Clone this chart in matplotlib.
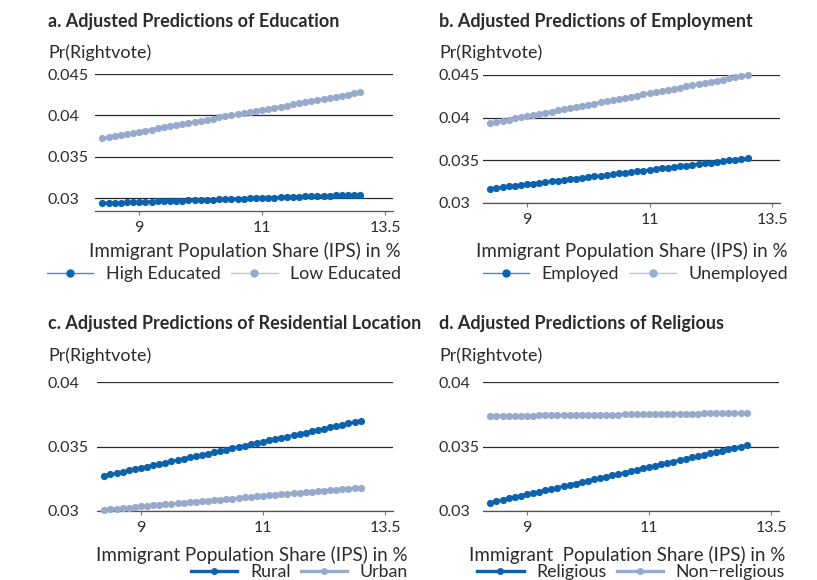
import matplotlib
matplotlib.use('Agg')
import matplotlib.pyplot as plt
from matplotlib.lines import Line2D

plt.rcParams['font.family'] = ['Lato', 'DejaVu Sans']

W, H = 817, 580

ips = [8.4, 8.5, 8.6, 8.7, 8.8, 8.9, 9.0, 9.1, 9.2, 9.3, 9.4,
       9.5, 9.6, 9.7, 9.8, 9.9, 10.0, 10.1, 10.2, 10.3, 10.4,
       10.5, 10.6, 10.7, 10.8, 10.9, 11.0, 11.1, 11.2, 11.3, 11.4,
       11.5, 11.6, 11.7, 11.8, 11.9, 12.0, 12.1, 12.2, 12.3, 12.4,
       12.5, 12.6]

high_edu = [0.02936, 0.02939, 0.02941, 0.02944, 0.02946, 0.02949, 0.02951, 0.02954, 0.02956,
            0.02959, 0.02961, 0.02964, 0.02966, 0.02969, 0.02971, 0.02974, 0.02976, 0.02979,
            0.02981, 0.02984, 0.02986, 0.02989, 0.02991, 0.02994, 0.02996, 0.02999, 0.03001,
            0.03004, 0.03006, 0.03009, 0.03012, 0.03014, 0.03017, 0.03019, 0.03022, 0.03024,
            0.03027, 0.03029, 0.03032, 0.03034, 0.03037, 0.03039, 0.03042]
low_edu = [0.03722, 0.03735, 0.03748, 0.03762, 0.03775, 0.03788, 0.03801, 0.03815, 0.03828,
           0.03841, 0.03854, 0.03868, 0.03881, 0.03894, 0.03907, 0.03921, 0.03934, 0.03947,
           0.03960, 0.03974, 0.03987, 0.04000, 0.04013, 0.04027, 0.04040, 0.04053, 0.04066,
           0.04079, 0.04093, 0.04106, 0.04119, 0.04132, 0.04146, 0.04159, 0.04172, 0.04185,
           0.04199, 0.04212, 0.04225, 0.04238, 0.04252, 0.04265, 0.04278]

employed = [0.03169, 0.03177, 0.03186, 0.03194, 0.03203, 0.03211, 0.03220, 0.03228, 0.03237,
            0.03245, 0.03254, 0.03262, 0.03270, 0.03279, 0.03287, 0.03296, 0.03304, 0.03313,
            0.03321, 0.03330, 0.03338, 0.03346, 0.03355, 0.03363, 0.03372, 0.03380, 0.03389,
            0.03397, 0.03406, 0.03414, 0.03423, 0.03431, 0.03439, 0.03448, 0.03456, 0.03465,
            0.03473, 0.03482, 0.03490, 0.03499, 0.03507, 0.03515, 0.03524]
unemployed = [0.03937, 0.03950, 0.03964, 0.03977, 0.03991, 0.04004, 0.04017, 0.04031, 0.04044,
              0.04058, 0.04071, 0.04084, 0.04098, 0.04111, 0.04125, 0.04138, 0.04151, 0.04165,
              0.04178, 0.04192, 0.04205, 0.04219, 0.04232, 0.04245, 0.04259, 0.04272, 0.04286,
              0.04299, 0.04312, 0.04326, 0.04339, 0.04353, 0.04366, 0.04379, 0.04393, 0.04406,
              0.04420, 0.04433, 0.04446, 0.04460, 0.04473, 0.04487, 0.04500]

rural = [0.03273, 0.03283, 0.03293, 0.03303, 0.03314, 0.03324, 0.03334, 0.03344, 0.03354,
         0.03364, 0.03374, 0.03385, 0.03395, 0.03405, 0.03415, 0.03425, 0.03435, 0.03445,
         0.03456, 0.03466, 0.03476, 0.03486, 0.03496, 0.03506, 0.03516, 0.03527, 0.03537,
         0.03547, 0.03557, 0.03567, 0.03577, 0.03587, 0.03598, 0.03608, 0.03618, 0.03628,
         0.03638, 0.03648, 0.03658, 0.03669, 0.03679, 0.03689, 0.03699]
urban = [0.03011, 0.03015, 0.03019, 0.03023, 0.03027, 0.03031, 0.03035, 0.03039, 0.03044,
         0.03048, 0.03052, 0.03056, 0.03060, 0.03064, 0.03068, 0.03072, 0.03076, 0.03080,
         0.03084, 0.03088, 0.03092, 0.03096, 0.03101, 0.03105, 0.03109, 0.03113, 0.03117,
         0.03121, 0.03125, 0.03129, 0.03133, 0.03137, 0.03141, 0.03145, 0.03149, 0.03153,
         0.03158, 0.03162, 0.03166, 0.03170, 0.03174, 0.03178, 0.03182]

religious = [0.03065, 0.03076, 0.03086, 0.03097, 0.03107, 0.03118, 0.03129, 0.03139, 0.03150,
             0.03160, 0.03171, 0.03182, 0.03192, 0.03203, 0.03213, 0.03224, 0.03235, 0.03245,
             0.03256, 0.03266, 0.03277, 0.03287, 0.03298, 0.03309, 0.03319, 0.03330, 0.03340,
             0.03351, 0.03362, 0.03372, 0.03383, 0.03393, 0.03404, 0.03415, 0.03425, 0.03436,
             0.03446, 0.03457, 0.03468, 0.03478, 0.03489, 0.03499, 0.03510]
non_religious = [0.03736, 0.03737, 0.03737, 0.03738, 0.03738, 0.03739, 0.03739, 0.03740, 0.03741,
                 0.03741, 0.03742, 0.03742, 0.03743, 0.03743, 0.03744, 0.03745, 0.03745, 0.03746,
                 0.03746, 0.03747, 0.03747, 0.03748, 0.03749, 0.03749, 0.03750, 0.03750, 0.03751,
                 0.03751, 0.03752, 0.03753, 0.03753, 0.03754, 0.03754, 0.03755, 0.03755, 0.03756,
                 0.03757, 0.03757, 0.03758, 0.03758, 0.03759, 0.03759, 0.03760]

x_ticks = [9, 11, 13]
x_ticklabels = ['9', '11', '13.5']

DARK = '#0b63ad'
LIGHT = '#98aacb'
TXT = '#2b2b2b'

fig = plt.figure(figsize=(W / 100, H / 100), dpi=100)


def px_axes(left, top, right, bottom):
    return fig.add_axes([left / W, 1 - bottom / H, (right - left) / W, (bottom - top) / H])


def panel(box, title, title_xy, series, labels, yticks, ylim, xlabel, xlabel_xy,
          legend_y, thin_legend):
    ax = px_axes(*box)
    ax.set_xlim(8.28, 13.13)
    ax.set_ylim(*ylim)
    for ys, c in zip(series, (DARK, LIGHT)):
        ax.plot(ips, ys, color=c, lw=2.0, marker='o', ms=5.2, mew=0, clip_on=False, zorder=3)
    for t in yticks:
        ax.axhline(t, color='#2a2a2a', lw=0.9, zorder=1)
    for s in ('top', 'right', 'left'):
        ax.spines[s].set_visible(False)
    ax.spines['bottom'].set_color('#555555')
    ax.spines['bottom'].set_linewidth(0.9)
    ax.set_yticks(yticks)
    ax.set_yticklabels([f'{t:g}' for t in yticks])
    pad_pt = (box[0] - title_xy[0]) * 72 / 100
    ax.tick_params(axis='y', length=0, pad=pad_pt, labelsize=11.5, labelcolor=TXT)
    for lab in ax.get_yticklabels():
        lab.set_horizontalalignment('left')
    ax.set_xticks(x_ticks)
    ax.set_xticklabels(x_ticklabels)
    ax.tick_params(axis='x', length=3, width=0.8, color='#777777', pad=4,
                   labelsize=11.5, labelcolor=TXT)

    fig.text(title_xy[0] / W, 1 - title_xy[1] / H, title, fontsize=13, fontweight='bold',
             color=TXT, ha='left', va='center')
    fig.text(title_xy[0] / W, 1 - (title_xy[1] + 32) / H, 'Pr(Rightvote)', fontsize=12.9,
             color=TXT, ha='left', va='center')
    fig.text(xlabel_xy[0] / W, 1 - xlabel_xy[1] / H, xlabel, fontsize=13.5,
             color=TXT, ha='right', va='center')

    if thin_legend:
        handles = [Line2D([], [], color='#3a8fd6', lw=1.0, marker='o', ms=5, mfc=DARK, mec=DARK),
                   Line2D([], [], color='#b8c4de', lw=1.0, marker='o', ms=5, mfc=LIGHT, mec=LIGHT)]
    else:
        handles = [Line2D([], [], color=DARK, lw=2.4, marker='o', ms=4, mfc=DARK, mec=DARK),
                   Line2D([], [], color=LIGHT, lw=2.4, marker='o', ms=4, mfc=LIGHT, mec=LIGHT)]
    fig.legend(handles, labels, ncol=2, frameon=False, loc='center right',
               bbox_to_anchor=(xlabel_xy[0] / W, 1 - legend_y / H), borderpad=0, borderaxespad=0,
               handlelength=2.6, handletextpad=0.7, columnspacing=0.6, fontsize=12.8,
               labelcolor=TXT)
    return ax


panel((95, 74, 393, 211), 'a. Adjusted Predictions of Education', (48, 21),
      (high_edu, low_edu), ['High Educated', 'Low Educated'],
      [0.03, 0.035, 0.04, 0.045], (0.02843, 0.045),
      'Immigrant Population Share (IPS) in %', (401, 251), 274, True)

panel((483, 75, 780, 203), 'b. Adjusted Predictions of Employment', (439, 21),
      (employed, unemployed), ['Employed', 'Unemployed'],
      [0.03, 0.035, 0.04, 0.045], (0.03, 0.045),
      'Immigrant Population Share (IPS) in %', (788, 251), 274, True)

panel((97, 382, 393, 511), 'c. Adjusted Predictions of Residential Location', (48, 324),
      (rural, urban), ['Rural', 'Urban'],
      [0.03, 0.035, 0.04], (0.03, 0.04),
      'Immigrant Population Share (IPS) in %', (408, 555), 572, False)

panel((483, 382, 779, 511), 'd. Adjusted Predictions of Religious', (439, 324),
      (religious, non_religious), ['Religious', 'Non\u2212religious'],
      [0.03, 0.035, 0.04], (0.03, 0.04),
      'Immigrant  Population Share (IPS) in %', (785, 555), 572, False)

fig.savefig('out.png', dpi=100)
